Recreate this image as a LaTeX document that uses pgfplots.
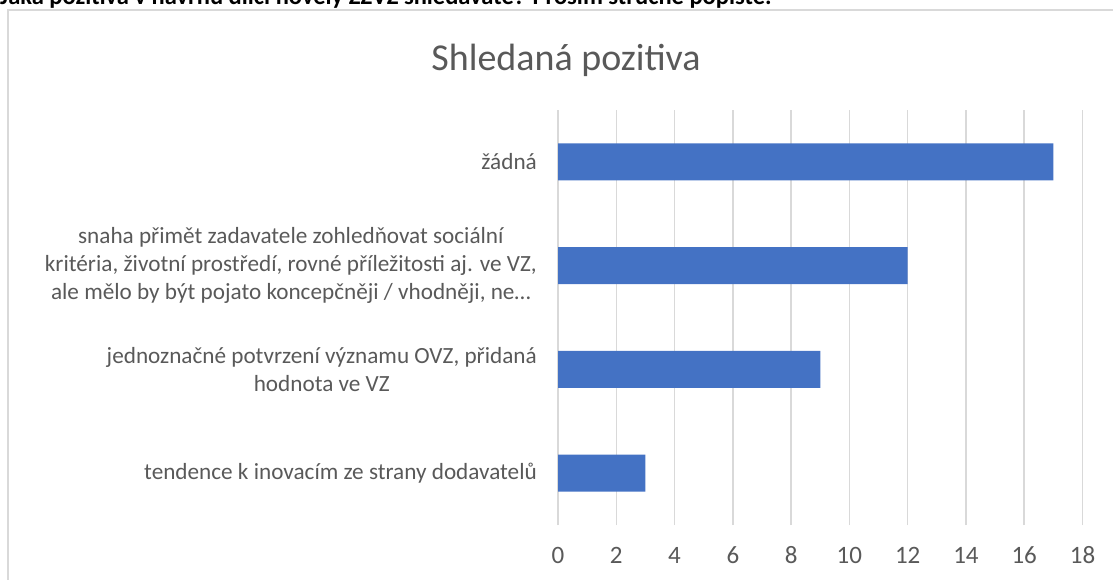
\documentclass[border=0pt]{standalone}
\usepackage{pgfplots}
\pgfplotsset{compat=1.18}
\usepackage{fontspec}
\setmainfont{Carlito}
\definecolor{barblue}{HTML}{4472C4}
\definecolor{txtgray}{HTML}{595959}
\definecolor{gridgray}{HTML}{D9D9D9}
\begin{document}
\begin{tikzpicture}[x=1pt,y=1pt]
\useasboundingbox (0,0) rectangle (1113,579);
\clip (0,0) rectangle (1113,579);
\node[anchor=base west,inner sep=0pt,font=\fontsize{24.5}{28}\selectfont\bfseries] at (0,574) {Jaká pozitiva v návrhu dílčí novely ZZVZ shledáváte? Prosím stručně popište.};
\draw[gridgray,line width=1.5pt] (8,-5) -- (8,569) -- (1120,569);
\node[font=\fontsize{38}{44}\selectfont,text=txtgray] at (566,519) {Shledaná pozitiva};
\begin{axis}[
  at={(558pt,54pt)}, anchor=south west,
  width=524.5pt, height=415pt, scale only axis,
  xbar, bar width=37pt,
  xmin=0, xmax=18, ymin=0.5, ymax=4.5,
  enlargelimits=false,
  xtick={0,2,...,18},
  ytick={1,2,3,4},
  yticklabels={{tendence k inovacím ze strany dodavatelů},{jednoznačné potvrzení významu OVZ, přidaná\\hodnota ve VZ},{snaha přimět zadavatele zohledňovat sociální\\kritéria, životní prostředí, rovné příležitosti aj. ve VZ,\\ale mělo by být pojato koncepčněji / vhodněji, ne…},{žádná}},
  yticklabel style={align=center,anchor=east,inner sep=0pt,xshift=-21pt,font=\fontsize{23.2}{28}\selectfont,text=txtgray},
  xticklabel style={anchor=center,inner sep=0pt,yshift=-30pt,font=\fontsize{25}{30}\selectfont,text=txtgray},
  /pgf/number format/assume math mode=true,
  xmajorgrids, grid style={gridgray,line width=1.5pt},
  major tick length=0pt,
  axis line style={draw=none},
]
\addplot[fill=barblue,draw=none] coordinates {(3,1) (9,2) (12,3) (17,4)};
\end{axis}
\end{tikzpicture}
\end{document}
